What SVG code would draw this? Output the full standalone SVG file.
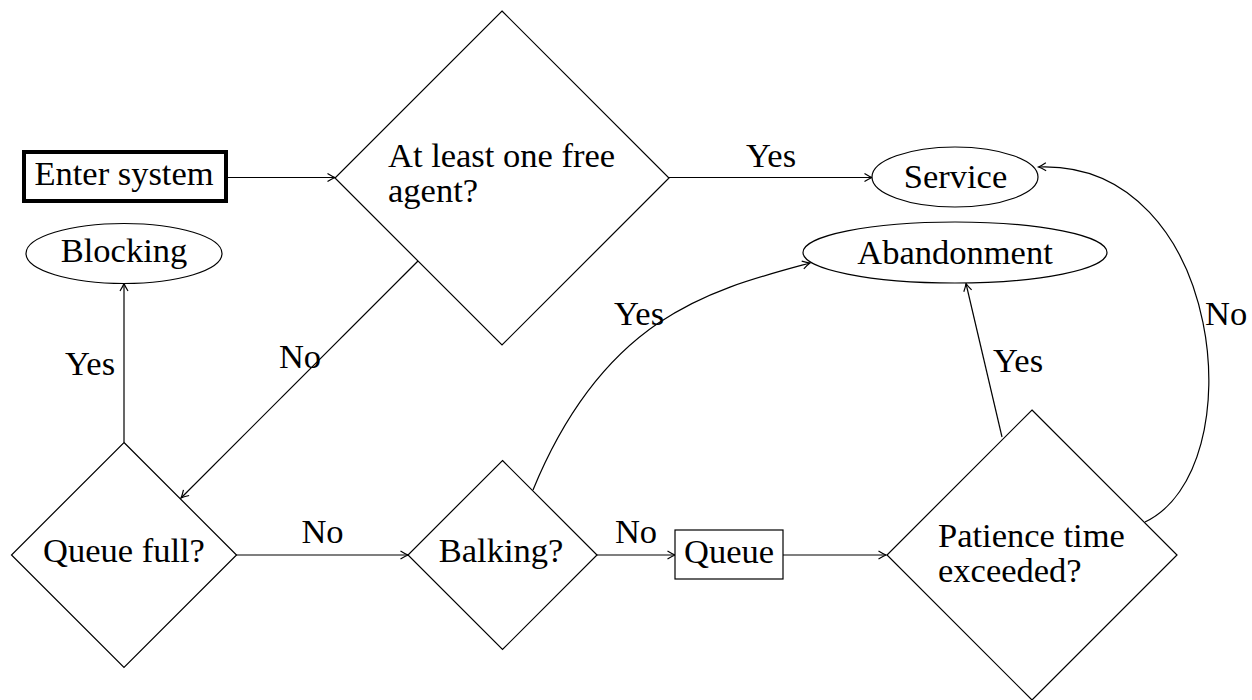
<svg xmlns="http://www.w3.org/2000/svg" width="1252" height="700" viewBox="0 0 1252 700">
<style>
  .shape { fill: #fff; stroke: #000; stroke-width: 1.2; }
  .thick { fill: #fff; stroke: #000; stroke-width: 4; }
  .edge { fill: none; stroke: #000; stroke-width: 1.2; marker-end: url(#arr); }
  text { font-family: "Liberation Serif", "Times New Roman", serif; font-size: 34.5px; fill: #000; }
  .c { text-anchor: middle; }
</style>
<defs>
  <marker id="arr" viewBox="-10 -6 12 12" refX="0" refY="0" markerWidth="12" markerHeight="12" markerUnits="userSpaceOnUse" orient="auto">
    <path d="M-7.5,-4 Q-2.5,-0.9 0,0 Q-2.5,0.9 -7.5,4" fill="none" stroke="#000" stroke-width="1.2"/>
  </marker>
</defs>
<rect width="1252" height="700" fill="#fff"/>

<g id="connectors">
  <line class="edge" x1="228" y1="177.5" x2="335" y2="177.5"/>
  <line class="edge" x1="669" y1="177.5" x2="872" y2="177.5"/>
  <line class="edge" x1="418" y1="261" x2="181" y2="498"/>
  <line class="edge" x1="124" y1="442.5" x2="124" y2="283.5"/>
  <line class="edge" x1="236" y1="555" x2="408" y2="555"/>
  <line class="edge" x1="597" y1="555" x2="675" y2="555"/>
  <line class="edge" x1="783" y1="555" x2="886" y2="555"/>
  <line class="edge" x1="1002" y1="437" x2="966" y2="283.5"/>
  <path class="edge" d="M533,490 C605.2,314.25 713.5,289.3 810,263"/>
  <path class="edge" d="M1145,522 C1255,470 1225,160 1038.5,167"/>
  <text class="c" x="771" y="167">Yes</text>
  <text class="c" x="300" y="368">No</text>
  <text class="c" x="90" y="375">Yes</text>
  <text class="c" x="322.5" y="543">No</text>
  <text class="c" x="636" y="543">No</text>
  <text class="c" x="639" y="325">Yes</text>
  <text class="c" x="1018" y="372">Yes</text>
  <text x="1205" y="325">No</text>
</g>

<g id="enter">
  <rect class="thick" x="24" y="152" width="202" height="49"/>
  <text class="c" x="124" y="185">Enter system</text>
</g>
<g id="freeagent">
  <polygon class="shape" points="502,11 669,178 502,345 335,178"/>
  <text x="388" y="167">At least one free</text>
  <text x="388" y="202">agent?</text>
</g>
<g id="service">
  <ellipse class="shape" cx="955" cy="177" rx="83" ry="30"/>
  <text class="c" x="955.5" y="188">Service</text>
</g>
<g id="blocking">
  <ellipse class="shape" cx="124" cy="253.5" rx="98" ry="30"/>
  <text class="c" x="124" y="262">Blocking</text>
</g>
<g id="abandonment">
  <ellipse class="shape" cx="955" cy="252.5" rx="152" ry="30.5"/>
  <text class="c" x="955" y="264">Abandonment</text>
</g>
<g id="queuefull">
  <polygon class="shape" points="124,442.5 236.5,555 124,667.5 11.5,555"/>
  <text class="c" x="124" y="562">Queue full?</text>
</g>
<g id="balking">
  <polygon class="shape" points="502.5,460.5 597,555 502.5,649.5 408,555"/>
  <text class="c" x="501" y="562">Balking?</text>
</g>
<g id="queue">
  <rect class="shape" x="675" y="530" width="108" height="49"/>
  <text class="c" x="729" y="563">Queue</text>
</g>
<g id="patience">
  <polygon class="shape" points="1032,410 1177,555 1032,700 887,555"/>
  <text x="938" y="547">Patience time</text>
  <text x="938" y="582">exceeded?</text>
</g>
</svg>
